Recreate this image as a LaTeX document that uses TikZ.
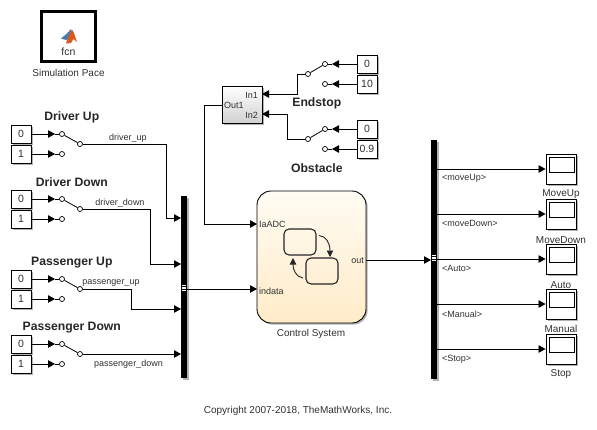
\documentclass[tikz,border=0pt]{standalone}
\usepackage{fontspec}
\setmainfont{Liberation Sans}
\usetikzlibrary{arrows.meta,shadows,calc}
\definecolor{txt}{HTML}{303030}
\definecolor{logoblue}{HTML}{3F7FB5}
\definecolor{logoorange}{HTML}{D9591F}
\definecolor{charttop}{HTML}{FFFBF3}
\definecolor{chartbot}{HTML}{FFEBC8}
\tikzset{
  lbl/.style={inner sep=0pt,yshift=-1pt,text=txt,font=\fontsize{10}{12}\selectfont},
  sigl/.style={inner sep=0pt,yshift=-.8pt,text=txt,font=\fontsize{9}{11}\selectfont},
  ttl/.style={inner sep=0pt,xshift=.8pt,yshift=-1.5pt,text=black!85,font=\fontsize{12.2}{14}\bfseries\selectfont},
  blockshadow/.style={drop shadow={shadow xshift=1.6pt,shadow yshift=-1.6pt,opacity=.3,fill=black}},
  const/.style={draw=black,line width=.9pt,fill=white,inner sep=0pt,minimum width=20pt,minimum height=18pt,text=txt,font=\fontsize{10.5}{12}\selectfont,blockshadow},
  swc/.style={circle,draw=black,line width=.7pt,fill=white,inner sep=0pt,minimum size=5pt},
  wire/.style={draw=black,line width=.8pt},
  sig/.style={wire,-{Triangle[length=7pt,width=7.5pt]}},
  busbar/.style={draw=none,fill=black,inner sep=0pt,minimum width=6pt,blockshadow},
  scopebox/.style={draw=black,line width=.9pt,fill=white,inner sep=0pt,minimum width=30pt,minimum height=30pt,blockshadow},
  screen/.style={draw=black,line width=.8pt,fill=white,inner sep=0pt,minimum width=25pt,minimum height=15pt},
  statebox/.style={draw=black!85,line width=1.1pt,fill=none,rounded corners=5pt,inner sep=0pt,minimum width=32pt,minimum height=26pt},
  stripe/.style={draw=none,fill=white,inner sep=0pt,minimum width=4pt,minimum height=1.2pt},
  trans/.style={draw=black!85,line width=.9pt,-{Triangle[length=6.5pt,width=6.5pt]}},
}
% #1 name, #2 y of upper constant centre, #3 label upper, #4 label lower
\newcommand{\leftswitch}[4]{%
  \node[const] (#1c0) at (21,#2) {#3};
  \node[const] (#1c1) at (21,#2+20) {#4};
  \node[swc] (#1i0) at (62,#2) {};
  \node[swc] (#1i1) at (62,#2+20) {};
  \node[swc] (#1o) at (80,#2+10) {};
  \coordinate (#1t0) at (55,#2);
  \coordinate (#1t1) at (55,#2+20);
  \draw[sig] (#1c0) -- (#1t0);
  \draw[sig] (#1c1) -- (#1t1);
  \draw[wire] (#1t0) -- (#1i0);
  \draw[wire] (#1t1) -- (#1i1);
  \draw[wire] (#1i0) -- (#1o);
}
\newcommand{\rightswitch}[4]{%
  \node[const] (#1c0) at (367,#2) {#3};
  \node[const] (#1c1) at (367,#2+20) {#4};
  \node[swc] (#1i0) at (325,#2) {};
  \node[swc] (#1i1) at (325,#2+20) {};
  \node[swc] (#1o) at (308,#2+10) {};
  \coordinate (#1t0) at (332,#2);
  \coordinate (#1t1) at (332,#2+20);
  \draw[sig] (#1c0) -- (#1t0);
  \draw[sig] (#1c1) -- (#1t1);
  \draw[wire] (#1t0) -- (#1i0);
  \draw[wire] (#1t1) -- (#1i1);
  \draw[wire] (#1i0) -- (#1o);
}
% #1 name, #2 top y, #3 text, #4 label y
\newcommand{\scopeblock}[4]{%
  \node[scopebox] (#1) at (561,#2+15) {};
  \node[screen] (#1s) at (561.5,#2+10.5) {};
  \node[lbl] (#1l) at (561,#4) {#3};
}
\begin{document}
\begin{tikzpicture}[x=1pt,y=-1pt]
\useasboundingbox (0,0) rectangle (597,429);
% Simulation Pace
\node[draw=black,line width=2.4pt,fill=white,inner sep=0pt,minimum width=54pt,minimum height=50pt,blockshadow] (pace) at (68.5,36.5) {};
\node[lbl,font=\fontsize{10.5}{12}\selectfont] (fcn) at (68.5,50.5) {fcn};
\node[lbl] (pacel) at (68.5,71.5) {Simulation Pace};
\fill[logoblue] (61,38.5) -- (67,33.5) -- (71,29) -- (72,36) -- (66,40) -- cycle;
\fill[logoorange] (66,43.5) -- (68,37) -- (72,29.5) -- (74,33) -- (77,42) -- (73.5,39) -- (71,43) -- cycle;
% Left switches
\leftswitch{a}{134}{0}{1}
\leftswitch{b}{199}{0}{1}
\leftswitch{c}{279}{0}{1}
\leftswitch{d}{344}{0}{1}
\node[ttl] (at) at (71,116) {Driver Up};
\node[ttl] (bt) at (71,181) {Driver Down};
\node[ttl] (ct) at (71,261) {Passenger Up};
\node[ttl] (dt) at (71,326) {Passenger Down};
% Left bus
\node[busbar,minimum height=182pt] (busl) at (184,287) {};
\node[stripe] (bla) at (184,285.5) {};
\node[stripe] (blb) at (184,288) {};
\node[stripe] (blc) at (184,290.5) {};
\coordinate (p1) at (181,218);
\coordinate (p2) at (181,264);
\coordinate (p3) at (181,309);
\coordinate (p4) at (181,354);
\draw[sig] (ao) -- (166,144) -- (166,218) -- (p1);
\draw[sig] (bo) -- (150,209) -- (150,264) -- (p2);
\draw[sig] (co) -- (131,289) -- (131,309) -- (p3);
\draw[sig] (do) -- (p4);
\node[sigl] (sa) at (128,137) {driver\_up};
\node[sigl] (sb) at (120,202) {driver\_down};
\node[sigl] (sc) at (111,282) {passenger\_up};
\node[sigl] (sd) at (128.5,363) {passenger\_down};
% Chart
\node[draw=black,line width=.9pt,rounded corners=14pt,top color=charttop,bottom color=chartbot,inner sep=0pt,minimum width=109pt,minimum height=132pt,blockshadow] (chart) at (311.5,257) {};
\node[lbl] (chartl) at (311,333) {Control System};
\node[sigl,anchor=west] (ia) at (259,224) {IaADC};
\node[sigl,anchor=west] (ind) at (259,290) {indata};
\node[sigl,anchor=east] (outp) at (364,260) {out};
\node[statebox] (st1) at (300,242) {};
\node[statebox] (st2) at (322,271) {};
\coordinate (t1a) at (319,235.5);
\coordinate (t1b) at (330,257);
\coordinate (t2a) at (303,278);
\coordinate (t2b) at (293,258);
\draw[trans] (t1a) .. controls (326,236) and (330,243) .. (t1b);
\draw[trans] (t2a) .. controls (296,277) and (293,270) .. (t2b);
\coordinate (ciaf) at (257,224);
\coordinate (cind) at (257,289);
\draw[sig] (busl.east |- cind) -- (cind);
% In1 In2 block
\node[draw=black,line width=.9pt,top color=white,bottom color=black!18,inner sep=0pt,minimum width=40pt,minimum height=37pt,blockshadow] (sub) at (242,104.5) {};
\node[sigl,anchor=east] (in1) at (258,95) {In1};
\node[sigl,anchor=east] (in2) at (258,115) {In2};
\node[sigl,anchor=west] (out1) at (224,105) {Out1};
\coordinate (pin1) at (262,94);
\coordinate (pin2) at (262,114);
\draw[sig] (sub.west |- 0,105) -- (204,105) -- (204,224) -- (ciaf);
% Right switches
\rightswitch{e}{64}{0}{10}
\rightswitch{f}{129}{0}{0.9}
\draw[sig] (eo) -- (297,74) -- (297,94) -- (pin1);
\draw[sig] (fo) -- (287,139) -- (287,114) -- (pin2);
\node[ttl] (et) at (316,102) {Endstop};
\node[ttl] (ft) at (316,167) {Obstacle};
% Right bus
\node[busbar,minimum height=239pt] (busr) at (434,259.5) {};
\node[stripe] (bra) at (434,255.5) {};
\node[stripe] (brb) at (434,258) {};
\node[stripe] (brc) at (434,260.5) {};
\coordinate (rin) at (431,260);
\draw[sig] (chart.east |- rin) -- (rin);
% Scopes
\scopeblock{s1}{154}{MoveUp}{193}
\scopeblock{s2}{199}{MoveDown}{239}
\scopeblock{s3}{244}{Auto}{284}
\scopeblock{s4}{289}{Manual}{328}
\scopeblock{s5}{334}{Stop}{373}
\draw[sig] (busr.east |- s1) -- (s1);
\draw[sig] (busr.east |- s2) -- (s2);
\draw[sig] (busr.east |- s3) -- (s3);
\draw[sig] (busr.east |- s4) -- (s4);
\draw[sig] (busr.east |- s5) -- (s5);
\node[sigl,anchor=west] (l1) at (442,178) {<moveUp>};
\node[sigl,anchor=west] (l2) at (442,223) {<moveDown>};
\node[sigl,anchor=west] (l3) at (442,268) {<Auto>};
\node[sigl,anchor=west] (l4) at (442,313) {<Manual>};
\node[sigl,anchor=west] (l5) at (442,358) {<Stop>};
\node[lbl] (copy) at (298,410) {Copyright 2007-2018, TheMathWorks, Inc.};
\end{tikzpicture}
\end{document}
